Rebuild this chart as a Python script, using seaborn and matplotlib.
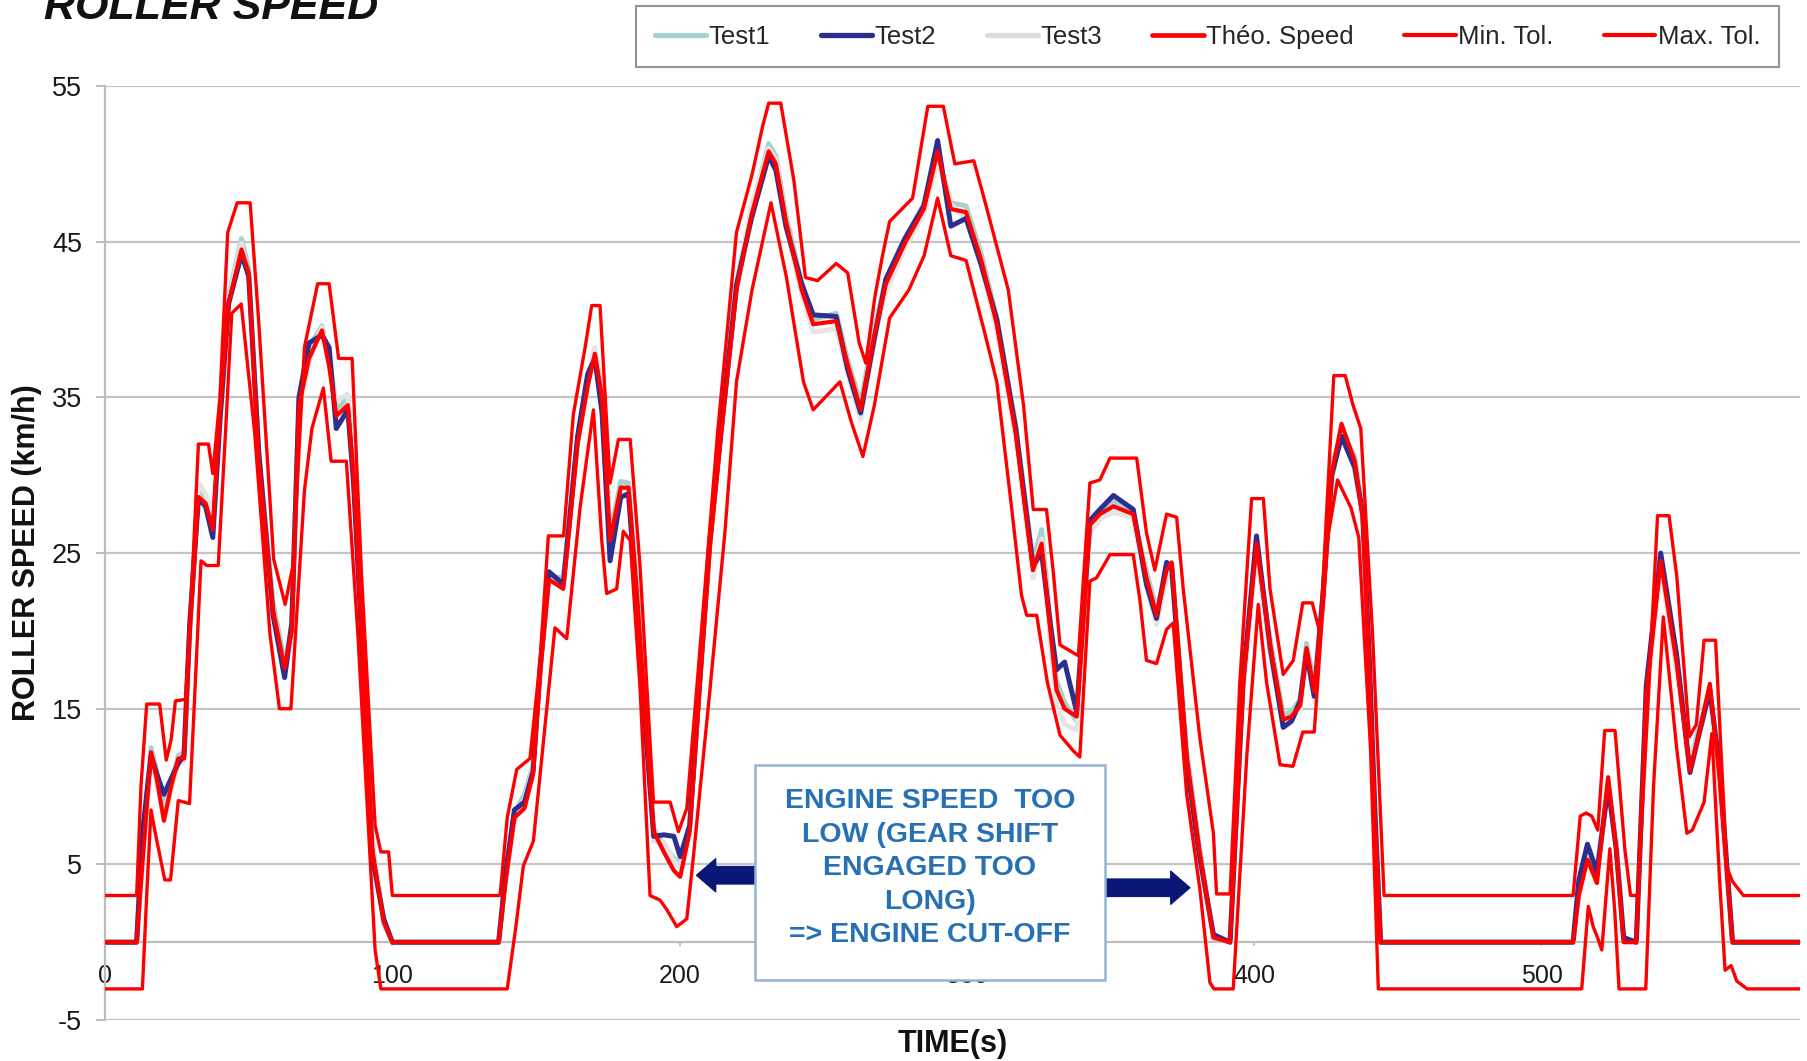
import matplotlib
matplotlib.use("Agg")
import matplotlib.pyplot as plt
import seaborn as sns
import pandas as pd
from matplotlib.lines import Line2D
from matplotlib.patches import Rectangle

# ---- chart data -----------------------------------------------------------
# time base shared by the theoretical speed and the three test runs (s)
TIME_S = [0, 11, 13, 16, 18, 20.5, 23, 25.5, 27.5, 29.5, 32.5, 35, 37.5, 40, 43, 47.5, 50, 53.5,
          58.5, 62.5, 65, 67.5, 71, 75.5, 78, 80.5, 84.5, 86.5, 88.5, 93, 97, 100,
          137, 139.5, 142.5, 146, 149, 151.5, 154.5, 159.5, 164.5, 168, 170.5, 173, 175.8, 179.5,
          182.2, 185, 188.5, 191, 194.5, 198, 200.2, 203.5, 207,
          210.5, 214.5, 219.8, 225, 231, 233.5, 237, 242.5, 246.5, 254.5, 258.5, 263, 267.8, 271.8,
          278.4, 285, 289.8, 294.4, 299.7, 305, 310.4, 317,
          323, 326, 329, 331.2, 334, 338.2, 342.8, 346.3, 351, 357.9, 362.5, 366, 369.5, 371.3,
          376.5, 381, 385.8, 391.6, 396.2, 400.8, 405.5, 410.1, 413, 416, 418.2, 420.9, 424, 427,
          430.4, 435, 437.8, 440, 442, 444,
          511, 513, 516, 519.3, 523.2, 526, 528.6, 533, 536.5, 541.5, 547, 551.7, 555, 558.6, 562,
          566.5, 590]

THEO_KMH = [0, 0, 5, 12.2, 10.5, 7.8, 10, 11.8, 11.8, 20, 28.6, 28.2, 26.5, 34, 41, 44.5, 43, 31,
            21.3, 17.6, 20, 34.5, 37.5, 39.3, 37, 33.8, 34.5, 30, 23, 6, 1.3, 0,
            0, 4, 8, 8.6, 10.8, 17.4, 23.3, 22.7, 32, 35.7, 37.8, 35, 25.8, 29.2,
            29.2, 22.7, 13.3, 7.1, 5.8, 4.6, 4.2, 7.1, 16.4,
            25.3, 32.7, 41.9, 46.7, 50.8, 50, 46.3, 41.9, 39.7, 39.9, 37.1, 34.2, 39, 42.3,
            44.9, 47.1, 50.8, 47.1, 46.9, 43.8, 39.7, 32.7,
            23.9, 25.6, 20.1, 16.2, 15, 14.5, 26.8, 27.5, 28, 27.5, 23.4, 21, 23.9, 24.4,
            11.9, 5.8, 0.3, 0, 16.7, 25.6, 19.1, 14.3, 14.5, 15.2, 18.9, 16.1, 22, 30.1,
            33.3, 30.9, 27.2, 18, 8, 0,
            0, 3, 5.3, 3.8, 10.6, 6, 0, 0, 16, 24.5, 18, 11, 13.5, 16.6, 10.5,
            0, 0]

TEST1_KMH = [0, 0, 6, 12.5, 11, 8.5, 10.3, 12, 12.2, 20.3, 29, 28.5, 27, 34.5, 41.5, 45.2, 43.3, 31.3,
             21.8, 18, 20.3, 34.8, 38.2, 39.6, 37.4, 34.2, 35, 30.5, 23.5, 6.5, 1.2, 0,
             0, 4.3, 8.3, 9.5, 11.4, 17.5, 23.5, 23.4, 32.4, 36, 38, 35.5, 26.2, 29.6,
             29.5, 23, 13.5, 7.3, 6.2, 5.4, 5, 7.4, 16.6,
             25.6, 33, 42.4, 47, 51.3, 50.5, 46.7, 42.3, 40, 40.4, 37.4, 34.6, 39.4, 42.6,
             45.2, 47.4, 50.6, 47.5, 47.3, 44.2, 40.1, 33.2,
             24.5, 26.5, 20.6, 16.8, 15.4, 14.2, 27, 27.8, 28.3, 27.4, 23.8, 21.4, 23.6, 24.2,
             12.3, 6, 0.3, 0, 16.9, 25.4, 19.5, 14.6, 14.8, 15.6, 19.2, 16.6, 22.4, 30.6,
             32.8, 31.2, 27.4, 18.3, 8.2, 0,
             0, 3.3, 5.8, 4.2, 10.2, 6.3, 0.2, 0, 16.3, 24, 18.4, 11.5, 13.9, 16.2, 10.3,
             0, 0]

TEST2_KMH = [0, 0, 7, 12, 10.8, 9.5, 10.5, 11.5, 12, 20.5, 28.5, 28, 26, 33.5, 41, 44.2, 42.8, 31.5,
             21, 17, 20.5, 35, 38.5, 39, 38.2, 33, 34.2, 29.5, 22.5, 5.5, 1.5, 0,
             0, 4.5, 8.5, 9, 11, 17.8, 23.8, 23, 32.5, 36.5, 37.5, 34, 24.5, 28.6,
             28.8, 22, 12.8, 6.8, 6.9, 6.8, 5.5, 7.5, 16.8,
             25.8, 33, 42.2, 46.5, 50.5, 49.6, 46, 42.3, 40.3, 40.2, 36.8, 34, 38.8, 42.6,
             45.2, 47.3, 51.5, 46, 46.5, 43.5, 40, 33,
             24.2, 25, 20.5, 17.5, 18, 14.8, 27.1, 27.8, 28.7, 27.8, 23, 20.8, 24.4, 24,
             11.5, 5.5, 0.5, 0, 17, 26.1, 19, 13.8, 14.2, 15.5, 18.6, 15.8, 22.5, 30,
             32.5, 30.5, 27.5, 18.5, 8.5, 0,
             0, 4, 6.3, 4.5, 10, 6, 0.3, 0, 16.5, 25, 18.5, 10.9, 13.5, 16.2, 11.2,
             0, 0]

TEST3_KMH = [0, 0, 5.5, 11.8, 10.2, 8.2, 9.8, 11.5, 11.6, 19.6, 29.5, 28.8, 27.3, 33.6, 41.3, 44.9, 42.6, 30.6,
             21, 17.2, 19.6, 34, 37.3, 39.5, 37.5, 34.8, 35.2, 30.3, 22.6, 6.3, 1.4, 0,
             0, 4.2, 7.8, 9.2, 11.2, 17.8, 23.6, 22.9, 32.2, 36.2, 38.2, 35.3, 25.5, 28.7,
             28.8, 22.4, 13, 6.5, 6.4, 5.2, 4.8, 7.6, 16.9,
             25.7, 33.4, 42.2, 47.2, 51, 50.3, 46, 41.6, 39.2, 39.4, 36.6, 33.6, 38.7, 41.8,
             44.6, 46.8, 50.2, 47.4, 46.5, 43.5, 39.3, 32.4,
             23.4, 25.9, 19.4, 15.2, 14, 13.6, 26.3, 27.2, 27.6, 27.3, 22.9, 20.4, 23.4, 23.9,
             11.4, 5.5, 0.2, 0, 16.2, 25.1, 18.6, 14, 14.3, 15, 18.3, 15.6, 21.6, 29.7,
             32.8, 30.3, 26.9, 17.6, 7.8, 0,
             0, 3.6, 6, 4.8, 10.4, 6.4, 0.2, 0, 15.7, 24.1, 17.4, 11.7, 13.3, 15.9, 10.1,
             0, 0]

# upper tolerance band
MAX_TOL_TIME_S = [0, 11, 12.5, 14.5, 19, 21.3, 23, 24.5, 28, 30, 32.5, 36, 37.5, 40, 42.7, 46, 50.5,
                  53.4, 58.7, 62.7, 65.4, 69.4, 74, 78, 81.3, 86, 89.3, 94, 96, 98.7, 100,
                  137.5, 140, 143.3, 147.9, 151.4, 154.3, 159.6, 163, 167.1, 169.4, 172.3, 175.8,
                  178.7, 182.8, 186.2, 190.9, 196.7, 199.6, 202.5, 206, 213.2, 219.8, 225.2, 229,
                  231, 235.2, 239.8, 243.8, 248, 254.5, 258.5, 262.5, 264.8, 268, 270.5, 273.1,
                  281.1, 286.4, 291.8, 295.8, 302.4, 306.4, 314.4, 319.7, 323.1, 327.7, 330, 332.4,
                  338.8, 342.8, 346.3, 349.8, 359.1, 362.5, 365.4, 369.5, 373, 375.3, 381.1, 385.8,
                  386.9, 391.6, 395, 399.1, 403.2, 405.5, 410.1, 413.6, 416.9, 420.2, 423, 427.7,
                  431.7, 434.4, 437.1, 441.2, 445.2,
                  511, 513.5, 515.5, 517.5, 519.6, 522, 525.6, 529, 531, 533.5, 537, 540.4, 544.4,
                  547.1, 551.5, 553.9, 556.6, 560.6, 564.5, 566.5, 570.3, 590]
MAX_TOL_KMH = [3, 3, 10, 15.3, 15.3, 11.7, 13, 15.5, 15.6, 22, 32, 32, 30.1, 35, 45.6, 47.5, 47.5,
               40.1, 24.6, 21.7, 24.2, 38.2, 42.3, 42.3, 37.5, 37.5, 23.5, 7.5, 5.8, 5.8, 3,
               3, 8, 11.1, 11.8, 18, 26.1, 26.1, 33.9, 38.2, 40.9, 40.9, 29.5,
               32.3, 32.3, 24.2, 9, 9, 7.1, 8.6, 16.4, 32.7, 45.6, 49.3, 52.5,
               53.9, 53.9, 48.9, 42.7, 42.5, 43.6, 43, 38.5, 37.2, 41.5, 44, 46.3,
               47.8, 53.7, 53.7, 50, 50.2, 47.5, 41.9, 34.5, 27.8, 27.8, 23.9, 19.1,
               18.4, 29.5, 29.7, 31.1, 31.1, 26.3, 23.9, 27.5, 27.3, 22.7, 13.1, 7.0,
               3.1, 3.1, 16.7, 28.5, 28.5, 22.7, 17.2, 18.1, 21.8, 21.8, 19.8, 36.4,
               36.4, 34.5, 33, 19.8, 3,
               3, 8.1, 8.3, 8.1, 7.2, 13.6, 13.6, 6, 3, 3, 15, 27.4, 27.4,
               23.5, 13.2, 14, 19.4, 19.4, 4.8, 3.9, 3, 3]

# lower tolerance band
MIN_TOL_TIME_S = [0, 13, 14.5, 16, 17.5, 20.8, 22.8, 25.5, 29.4, 31, 33.4, 35.4, 39.4, 42, 44.1, 47.4,
                  52.1, 57.4, 60.7, 64.7, 69.4, 72, 76, 78.7, 84, 88, 94, 96,
                  140, 143, 145.6, 149.1, 153.7, 156.6, 160.7, 165.4, 170, 172.9, 174.6, 178.1,
                  180.4, 182.8, 186.2, 189.7, 193.2, 195.5, 199, 202.5, 204.8, 210.5, 215.8, 219.8,
                  225.2, 231.8, 237.2, 243.1, 246.5, 255.8, 259.8, 263.8, 267.8, 273.1, 279.8, 285.1,
                  289.8, 294.4, 299.7, 306.4, 310.4, 315.5, 319, 320.8, 324.3, 328, 332.4, 337,
                  339.3, 342.8, 345.1, 349.8, 357.9, 360.2, 362.5, 366, 369.5, 371.8, 376.5, 381.1,
                  384.6, 386, 392.7, 397.4, 401.4, 404.3, 409, 413.5, 416.9, 420.9, 425.6, 429,
                  433.7, 436.4, 440.5, 443.2,
                  514, 516.3, 518, 519.5, 521, 522.5, 523.8, 525.5, 527, 536.3, 539, 542.4, 547.1,
                  550.6, 552.5, 556.6, 559.3, 562, 563.9, 566, 568, 571.6, 590]
MIN_TOL_KMH = [-3, -3, 3, 8.5, 7, 4, 4, 9.1, 8.9, 15, 24.5, 24.2, 24.2, 33, 40.4, 41,
               32.7, 19.8, 15, 15, 29, 33, 35.6, 30.9, 30.9, 19.8, -0.5, -3,
               -3, 1, 4.9, 6.5, 14.9, 20.2, 19.5, 28, 34.2, 25.8, 22.4, 22.7,
               26.4, 25.8, 16.4, 3.0, 2.7, 2.1, 1.0, 1.5, 5.5, 16.1, 26.4, 36,
               41.9, 47.5, 42.7, 36, 34.2, 36, 33.4, 31.2, 34.5, 40.1, 41.9, 44.1,
               47.8, 44.1, 43.8, 39, 36, 28, 22.3, 21, 21, 16.7, 13.3, 12.3,
               11.9, 23.2, 23.4, 24.9, 24.9, 22, 18.1, 17.9, 20.1, 20.5, 9.5, 3.4,
               -2.6, -3, -3, 11.9, 21.7, 16.7, 11.4, 11.3, 13.5, 13.5, 26, 29.7,
               27.9, 26, 12.4, -3,
               -3, 2.3, 1, 0.3, -0.5, 3, 6, 2, -3, -3, 10, 20.9, 12.4,
               7, 7.2, 9, 13.4, 4, -1.8, -1.5, -2.5, -3, -3]

X_TICKS = [0, 100, 200, 300, 400, 500]
Y_TICKS = [-5, 5, 15, 25, 35, 45, 55]

NOTE_TEXT = "ENGINE SPEED  TOO\nLOW (GEAR SHIFT\nENGAGED TOO\nLONG)\n=> ENGINE CUT-OFF"

# ---- styling --------------------------------------------------------------
sns.set_theme(style="white")
plt.rcParams["font.family"] = ["Liberation Sans", "DejaVu Sans"]

RED = "#ff0000"
TEST_COLORS = {"Test1": "#a9cfcf", "Test2": "#2b2f8e", "Test3": "#e4e4e4"}
GRID = "#c4c4c4"
AXIS = "#bdbdbd"

fig = plt.figure(figsize=(18.08, 10.61), dpi=100)
ax = fig.add_axes([0.0581, 0.0386, 0.9375, 0.8803])

tests = {"Test1": TEST1_KMH, "Test3": TEST3_KMH, "Test2": TEST2_KMH}
for name, values in tests.items():
    df = pd.DataFrame({"t": TIME_S, "v": values})
    sns.lineplot(data=df, x="t", y="v", ax=ax, color=TEST_COLORS[name], linewidth=3.6,
                 sort=False, estimator=None, legend=False, zorder=2,
                 solid_joinstyle="round", solid_capstyle="round")

bands = [(MIN_TOL_TIME_S, MIN_TOL_KMH, 2.4), (MAX_TOL_TIME_S, MAX_TOL_KMH, 2.4),
         (TIME_S, THEO_KMH, 3.0)]
for times, values, lw in bands:
    df = pd.DataFrame({"t": times, "v": values})
    sns.lineplot(data=df, x="t", y="v", ax=ax, color=RED, linewidth=lw,
                 sort=False, estimator=None, legend=False, zorder=3,
                 solid_joinstyle="round", solid_capstyle="round")

ax.set_xlim(0, 590)
ax.set_ylim(-5, 55)
ax.set_xticks(X_TICKS)
ax.set_xticklabels([str(x) for x in X_TICKS])
ax.set_yticks(Y_TICKS)
ax.set_yticklabels([str(y) for y in Y_TICKS])

ax.grid(axis="y", color=GRID, linewidth=1.6)
ax.grid(axis="x", visible=False)
ax.set_axisbelow(True)

for side in ("top", "right"):
    ax.spines[side].set_visible(False)
ax.spines["left"].set_color(AXIS)
ax.spines["left"].set_linewidth(1.6)
ax.spines["bottom"].set_position(("data", 0))
ax.spines["bottom"].set_color(AXIS)
ax.spines["bottom"].set_linewidth(1.6)

ax.tick_params(axis="x", direction="out", length=3, width=1.2, color=AXIS,
               pad=13, labelsize=18, labelcolor="#1a1a1a", bottom=True)
ax.tick_params(axis="y", direction="out", length=6.5, width=1.4, color=AXIS,
               pad=10, labelsize=19.5, labelcolor="#1a1a1a", left=True)

ax.set_xlabel("TIME(s)", fontsize=22, fontweight="bold", color="#111111")
ax.xaxis.set_label_coords(0.5, -0.010)
ax.set_ylabel("ROLLER SPEED (km/h)", fontsize=22, fontweight="bold", color="#111111")
ax.yaxis.set_label_coords(-0.037, 0.5)

# note box with arrows pointing to the two cut-off events
NAVY = "#0b1777"
arrow_style = "simple,head_length=0.55,head_width=0.95,tail_width=0.5"
ax.annotate("", xy=(205.9, 4.3), xytext=(240, 4.3),
            arrowprops=dict(arrowstyle=arrow_style, color=NAVY, mutation_scale=25,
                            shrinkA=0, shrinkB=0), zorder=5)
ax.annotate("", xy=(377.6, 3.5), xytext=(335, 3.5),
            arrowprops=dict(arrowstyle=arrow_style, color=NAVY, mutation_scale=25,
                            shrinkA=0, shrinkB=0), zorder=5)
ax.add_patch(Rectangle((226.2, -2.44), 121.9, 13.84, facecolor="white",
                       edgecolor="#93b5d5", linewidth=1.8, zorder=6))
ax.text(287.1, 4.75, NOTE_TEXT, ha="center", va="center", color="#2670b3",
        fontsize=20.5, fontweight="bold", linespacing=1.38, zorder=7)

# legend across the top
handles = [Line2D([], [], color=TEST_COLORS["Test1"], lw=3.8),
           Line2D([], [], color=TEST_COLORS["Test2"], lw=3.8),
           Line2D([], [], color="#dcdcdc", lw=3.8),
           Line2D([], [], color=RED, lw=3.4),
           Line2D([], [], color=RED, lw=3.0),
           Line2D([], [], color=RED, lw=3.0)]
labels = ["Test1", "Test2", "Test3", "Théo. Speed", "Min. Tol.", "Max. Tol."]
leg = fig.legend(handles, labels, loc="center", bbox_to_anchor=(0.352, 0.936, 0.632, 0.059),
                 mode="expand", ncol=6, frameon=True, fancybox=False, fontsize=18.5,
                 handlelength=2.0, handletextpad=0.1, borderpad=0.72, borderaxespad=0)
leg.get_frame().set_edgecolor("#7a7a7a")
leg.get_frame().set_linewidth(1.5)

fig.text(0.0243, 0.982, "ROLLER SPEED", fontsize=31, fontweight="bold", fontstyle="italic",
         ha="left", va="baseline", color="#111111")

fig.savefig("out.png", dpi=100)
